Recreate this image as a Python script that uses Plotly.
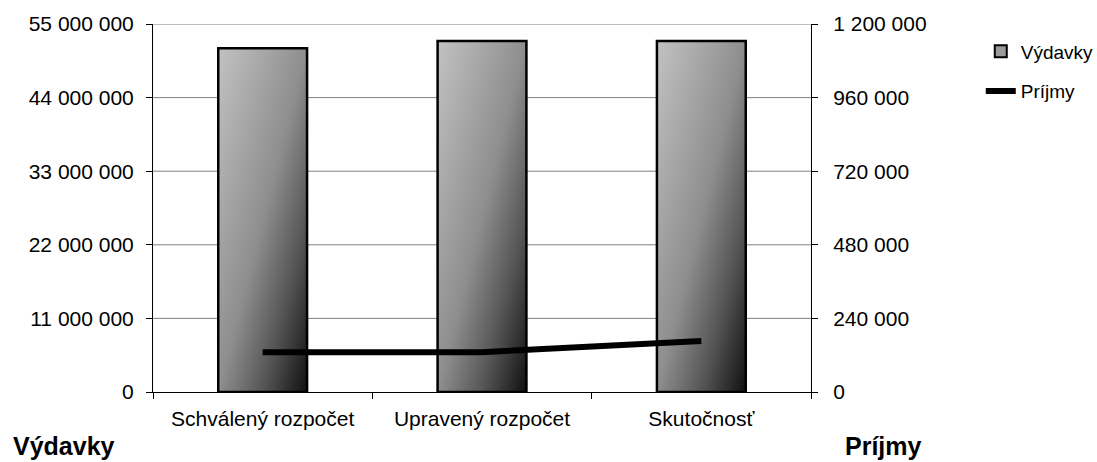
import urllib.parse
import plotly.graph_objects as go

categories = ["Schválený rozpočet", "Upravený rozpočet", "Skutočnosť"]
vydavky = [51_370_000, 52_460_000, 52_460_000]
prijmy = [130_000, 130_000, 166_000]

left_ticks = [0, 11_000_000, 22_000_000, 33_000_000, 44_000_000, 55_000_000]
right_ticks = [0, 240_000, 480_000, 720_000, 960_000, 1_200_000]


def fmt(v):
    return f"{v:,}".replace(",", " ")


FONT = "Arial, Liberation Sans, sans-serif"
BAR_W = 0.405

grad_svg = (
    "<svg xmlns='http://www.w3.org/2000/svg' width='100' height='100' viewBox='0 0 100 100' preserveAspectRatio='none'>"
    "<defs><linearGradient id='g' x1='0' y1='0' x2='1' y2='1'>"
    "<stop offset='0' stop-color='#c2c2c2'/>"
    "<stop offset='0.25' stop-color='#a8a8a8'/>"
    "<stop offset='0.5' stop-color='#8e8e8e'/>"
    "<stop offset='0.75' stop-color='#555555'/>"
    "<stop offset='1' stop-color='#101010'/>"
    "</linearGradient></defs>"
    "<rect width='100' height='100' fill='url(#g)'/></svg>"
)
grad_uri = "data:image/svg+xml;charset=utf-8," + urllib.parse.quote(grad_svg)

fig = go.Figure()

# legend-only proxy for the bars
fig.add_trace(go.Bar(
    x=categories, y=[None] * len(categories), name="Výdavky",
    marker=dict(color="#9a9a9a", line=dict(color="black", width=2)),
    width=BAR_W, legendgroup="v", hoverinfo="skip",
))
# actual bars (outline; gradient fill is an image beneath)
fig.add_trace(go.Bar(
    x=categories, y=vydavky, name="Výdavky", showlegend=False,
    marker=dict(color="rgba(0,0,0,0)", line=dict(color="black", width=2.5)),
    width=BAR_W, legendgroup="v",
))
fig.add_trace(go.Scatter(
    x=categories, y=prijmy, name="Príjmy", yaxis="y2", mode="lines",
    line=dict(color="black", width=6), legendgroup="p",
))

images = []
for i, v in enumerate(vydavky):
    images.append(dict(
        source=grad_uri, xref="x", yref="y", x=i - BAR_W / 2, y=v,
        sizex=BAR_W, sizey=v, xanchor="left", yanchor="top",
        sizing="stretch", layer="below",
    ))

shapes = []
for v in left_ticks[1:]:
    shapes.append(dict(
        type="line", xref="paper", x0=0, x1=1, yref="y", y0=v, y1=v,
        line=dict(color="#808080", width=1), layer="below",
    ))

fig.update_layout(
    width=1097, height=462,
    margin=dict(l=153, r=286, t=24, b=70, autoexpand=False),
    paper_bgcolor="white", plot_bgcolor="white",
    font=dict(family=FONT, size=21, color="black"),
    barmode="overlay",
    showlegend=True,
    legend=dict(
        x=1.258, y=0.977, xanchor="left", yanchor="top",
        font=dict(size=19), tracegroupgap=12, traceorder="grouped",
        bgcolor="rgba(0,0,0,0)",
    ),
    xaxis=dict(
        type="category", showline=True, linecolor="black", linewidth=1,
        ticks="outside", tickson="boundaries", ticklen=6, tickcolor="black",
        showgrid=False, tickfont=dict(size=21), range=[-0.5, 2.5],
        ticklabelstandoff=8,
    ),
    yaxis=dict(
        range=[0, 55_000_000], tickvals=left_ticks,
        ticktext=[fmt(v) for v in left_ticks],
        showline=True, linecolor="black", linewidth=1,
        ticks="outside", ticklen=6, tickcolor="black",
        showgrid=False, zeroline=False, tickfont=dict(size=21),
        ticklabelstandoff=8,
    ),
    yaxis2=dict(
        range=[0, 1_200_000], tickvals=right_ticks,
        ticktext=[fmt(v) for v in right_ticks],
        overlaying="y", side="right",
        showline=True, linecolor="black", linewidth=1,
        ticks="outside", ticklen=6, tickcolor="black",
        showgrid=False, zeroline=False, tickfont=dict(size=21),
        ticklabelstandoff=11,
    ),
    images=images,
    shapes=shapes,
    annotations=[
        dict(text="<b>Výdavky</b>", xref="paper", yref="paper",
             x=-0.2158, y=-0.148, xanchor="left", yanchor="middle",
             showarrow=False, font=dict(size=25, family=FONT)),
        dict(text="<b>Príjmy</b>", xref="paper", yref="paper",
             x=1.0486, y=-0.148, xanchor="left", yanchor="middle",
             showarrow=False, font=dict(size=25, family=FONT)),
    ],
)

fig.write_html("out.html", post_script="document.body.style.margin='0';",
               config={"displayModeBar": False})
